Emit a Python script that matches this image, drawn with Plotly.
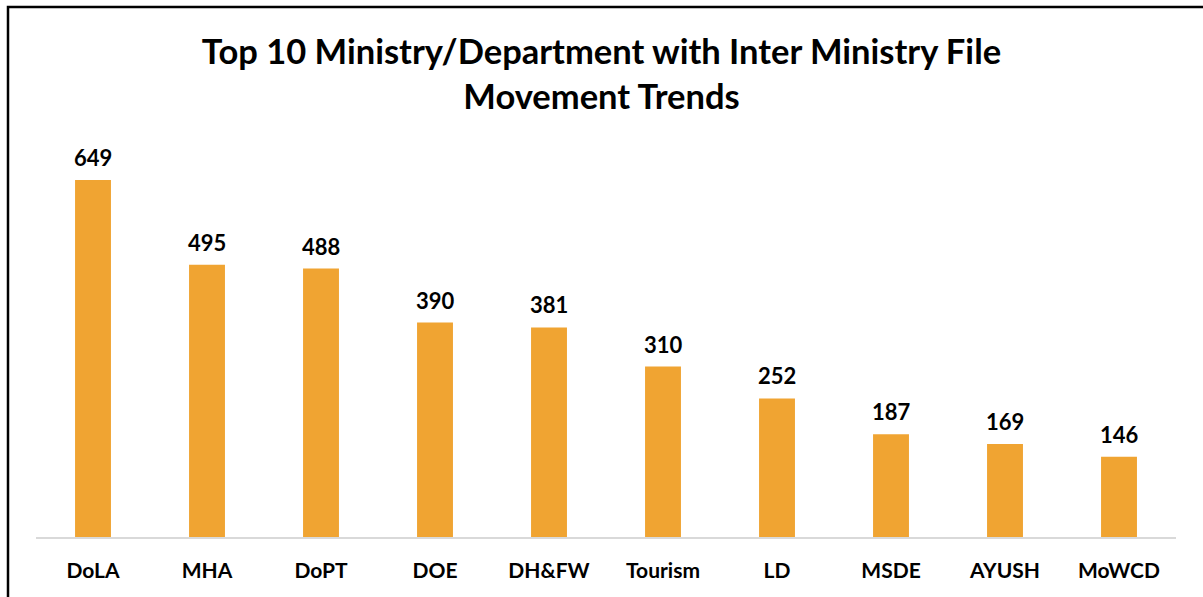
import plotly.graph_objects as go

categories = ["DoLA", "MHA", "DoPT", "DOE", "DH&FW", "Tourism", "LD", "MSDE", "AYUSH", "MoWCD"]
values = [649, 495, 488, 390, 381, 310, 252, 187, 169, 146]
title_text = "Top 10 Ministry/Department with Inter Ministry File<br>Movement Trends"

W, H = 1203, 597
L, R, T, B = 36, 27, 130, 60
pw = W - L - R
ph = H - T - B

def px2x(px):
    return (px - L) / pw

def px2y(py):
    return (H - B - py) / ph

fig = go.Figure()
fig.add_trace(go.Bar(
    x=categories, y=values,
    marker=dict(color="#F0A432", line=dict(width=0)),
    hoverinfo="x+y",
))

for c, v in zip(categories, values):
    fig.add_annotation(x=c, y=v, text=str(v), showarrow=False,
                       xanchor="center", yanchor="bottom", yshift=7,
                       font=dict(family="Lato", size=22, color="#000000", weight="bold"))

fig.update_layout(
    width=W, height=H,
    margin=dict(l=L, r=R, t=T, b=B),
    paper_bgcolor="white", plot_bgcolor="white",
    bargap=0.685,
    showlegend=False,
    title=dict(text=title_text, x=0.5, xanchor="center", y=0.893, yanchor="top",
               font=dict(family="Lato", size=34.5, color="#000000", weight="bold")),
    xaxis=dict(showgrid=False, showline=True, linecolor="#D9D9D9", linewidth=2,
               ticks="", tickfont=dict(family="Lato", size=21, color="#000000", weight="bold"),
               ticklabelstandoff=14),
    yaxis=dict(range=[0, 740], visible=False, showgrid=False),
    shapes=[dict(type="rect", xref="paper", yref="paper",
                 x0=px2x(8), x1=px2x(1215), y0=px2y(7), y1=px2y(640),
                 line=dict(color="#000000", width=2.5), fillcolor="rgba(0,0,0,0)",
                 layer="above")],
)

fig.write_html("out.html", config={"displayModeBar": False},
               post_script="document.body.style.margin='0';")
